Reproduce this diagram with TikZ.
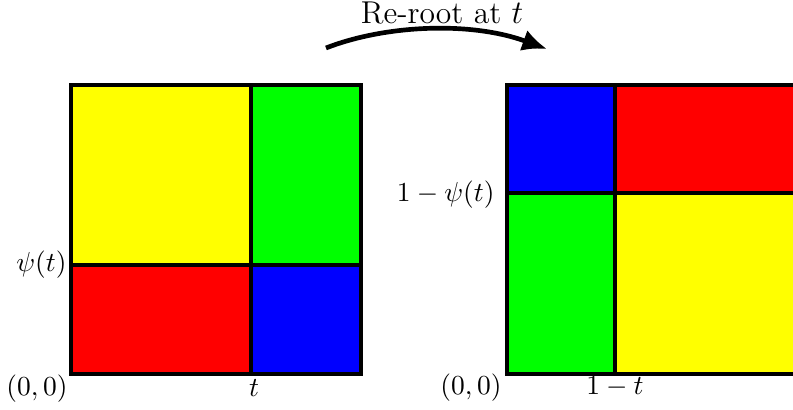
\documentclass[tikz,border=0pt]{standalone}
\usetikzlibrary{arrows.meta}
\definecolor{cyel}{RGB}{255,255,0}
\definecolor{cgrn}{RGB}{0,255,0}
\definecolor{cred}{RGB}{255,0,0}
\definecolor{cblu}{RGB}{0,0,255}
\tikzset{
  cell/.style={draw=black, line width=1.4pt},
  lbl/.style={inner sep=0pt, font=\fontsize{10pt}{12pt}\selectfont}
}
\begin{document}
\begin{tikzpicture}[x=0.364pt, y=-0.364pt]
\clip (0,0) rectangle (793,410);
\useasboundingbox (0,0) rectangle (793,410);
% left square
\fill[cyel] (71,85) rectangle (251,265);
\fill[cgrn] (251,85) rectangle (361,265);
\fill[cred] (71,265) rectangle (251,374);
\fill[cblu] (251,265) rectangle (361,374);
\draw[cell] (71,85) rectangle (361,374);
\draw[cell] (251,85) -- (251,374);
\draw[cell] (71,265) -- (361,265);
% right square
\fill[cblu] (507,85) rectangle (615,193);
\fill[cred] (615,85) rectangle (797,193);
\fill[cgrn] (507,193) rectangle (615,374);
\fill[cyel] (615,193) rectangle (797,374);
\draw[cell] (507,85) rectangle (797,374);
\draw[cell] (615,85) -- (615,374);
\draw[cell] (507,193) -- (797,193);
% labels
\node[lbl, anchor=east] (psi) at (67,265) {$\psi(t)$};
\node[lbl] (o1) at (37,389) {$(0,0)$};
\node[lbl] (t1) at (254,388) {$t$};
\node[lbl, anchor=east] (psi2) at (495,195) {$1-\psi(t)$};
\node[lbl] (o2) at (471,388) {$(0,0)$};
\node[lbl] (t2) at (615,387) {$1-t$};
% arrow
\coordinate (a) at (326,48);
\coordinate (b) at (547,49);
\draw[line width=1.7pt, -{Latex[length=9pt,width=8pt]}] (a) .. controls (385,25) and (470,21) .. (b);
\node[inner sep=0pt, anchor=base, font=\fontsize{11.5pt}{14pt}\selectfont] (title) at (442,24) {Re-root at $t$};
\end{tikzpicture}
\end{document}
